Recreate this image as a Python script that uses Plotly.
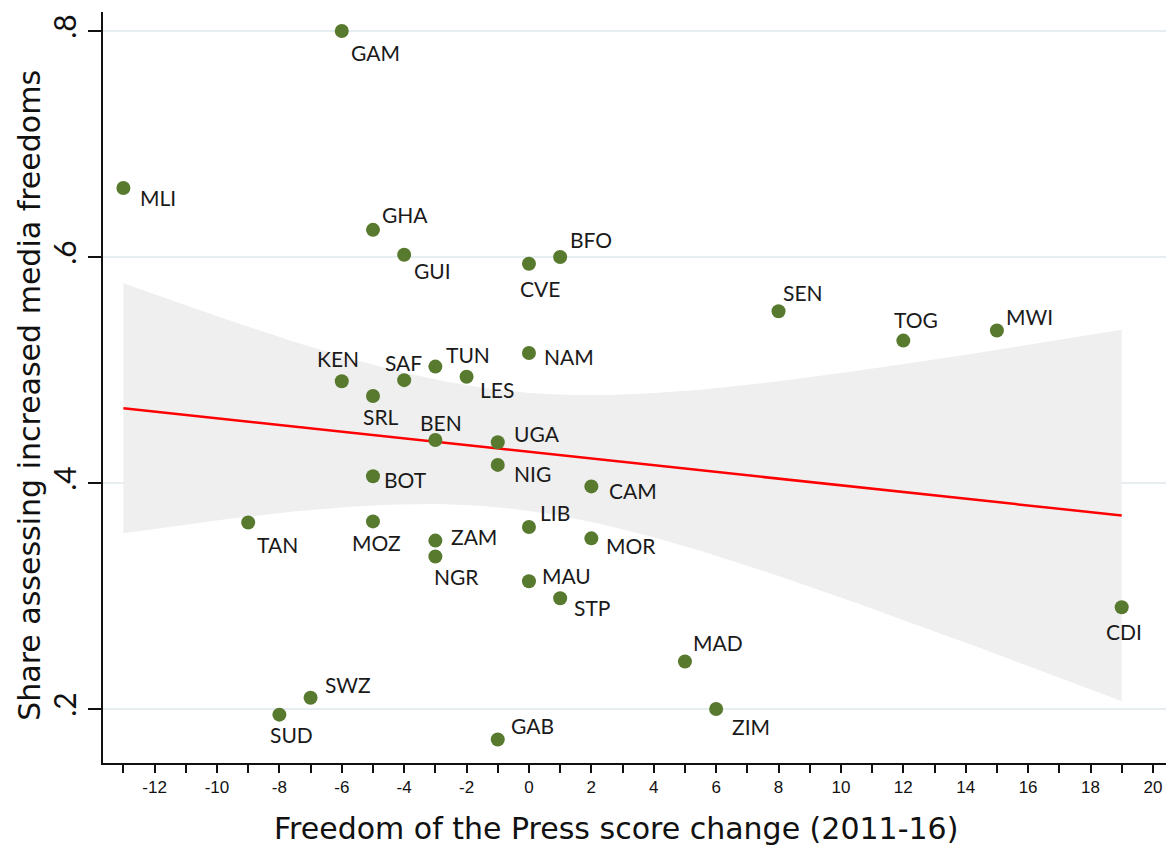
import numpy as np
import plotly.graph_objects as go

# Country codes, press-freedom score change and share assessing increased media freedoms
countries = ["GAM", "MLI", "GHA", "GUI", "CVE", "BFO", "SEN", "TOG", "MWI", "NAM",
             "TUN", "LES", "KEN", "SAF", "SRL", "BEN", "UGA", "NIG", "BOT", "CAM",
             "TAN", "MOZ", "LIB", "ZAM", "NGR", "MOR", "MAU", "STP", "CDI", "MAD",
             "ZIM", "SWZ", "SUD", "GAB"]
score_change = [-6, -13, -5, -4, 0, 1, 8, 12, 15, 0,
                -3, -2, -6, -4, -5, -3, -1, -1, -5, 2,
                -9, -5, 0, -3, -3, 2, 0, 1, 19, 5,
                6, -7, -8, -1]
share_increased = [0.800, 0.661, 0.624, 0.602, 0.594, 0.600, 0.552, 0.526, 0.535, 0.515,
                   0.503, 0.494, 0.490, 0.491, 0.477, 0.438, 0.436, 0.416, 0.406, 0.397,
                   0.365, 0.366, 0.361, 0.349, 0.335, 0.351, 0.313, 0.298, 0.290, 0.242,
                   0.200, 0.210, 0.195, 0.173]

x_tick_values = list(range(-12, 21, 2))
x_tick_text = [str(v) for v in x_tick_values]  # plain hyphen-minus
y_tick_values = [0.2, 0.4, 0.6, 0.8]
y_tick_text = [".2", ".4", ".6", ".8"]

x_title = "Freedom of the Press score change (2011-16)"
y_title = "Share assessing increased media freedoms"

# Label placement around each marker (pixels: right, down)
label_offsets = {
    "GAM": (7, 22), "MLI": (15, 9), "GHA": (7, -15), "GUI": (8, 16), "CVE": (-11, 25),
    "BFO": (8, -17), "SEN": (2, -19), "TOG": (-11, -21), "MWI": (7, -14), "NAM": (13, 3),
    "TUN": (9, -12), "LES": (11, 13), "KEN": (-27, -23), "SAF": (-21, -18), "SRL": (-12, 21),
    "BEN": (-17, -18), "UGA": (14, -9), "NIG": (14, 9), "BOT": (9, 3), "CAM": (16, 4),
    "TAN": (7, 22), "MOZ": (-23, 21), "LIB": (9, -15), "ZAM": (14, -4), "NGR": (-3, 20),
    "MOR": (13, 7), "MAU": (11, -6), "STP": (12, 9), "CDI": (-18, 24), "MAD": (6, -19),
    "ZIM": (14, 18), "SWZ": (12, -13), "SUD": (-11, 20), "GAB": (11, -14),
}

x = np.array(score_change, dtype=float)
y = np.array(share_increased, dtype=float)

# Linear fit with 95% confidence interval for the mean prediction
n = len(x)
slope, intercept = np.polyfit(x, y, 1)
resid = y - (intercept + slope * x)
s = np.sqrt(np.sum(resid ** 2) / (n - 2))
xbar = x.mean()
sxx = np.sum((x - xbar) ** 2)
t_crit = 2.0369  # t(0.975, 32)
xf = np.linspace(x.min(), x.max(), 200)
yf = intercept + slope * xf
half = t_crit * s * np.sqrt(1.0 / n + (xf - xbar) ** 2 / sxx)

label_font = "Lato, 'Open Sans', sans-serif"
title_font = "'DejaVu Sans', Verdana, sans-serif"

fig = go.Figure()

fig.add_trace(go.Scatter(
    x=np.concatenate([xf, xf[::-1]]),
    y=np.concatenate([yf + half, (yf - half)[::-1]]),
    fill="toself", fillcolor="#efefef", line=dict(width=0),
    hoverinfo="skip", showlegend=False,
))
fig.add_trace(go.Scatter(
    x=xf, y=yf, mode="lines", line=dict(color="#ff0000", width=2.5),
    hoverinfo="skip", showlegend=False,
))
fig.add_trace(go.Scatter(
    x=score_change, y=share_increased, mode="markers", text=countries,
    marker=dict(color="#587a2e", size=14), showlegend=False,
))

for c, xv, yv in zip(countries, score_change, share_increased):
    dx, dy = label_offsets[c]
    fig.add_annotation(
        x=xv, y=yv, text=c, showarrow=False,
        xanchor="left", yanchor="middle",
        xshift=dx, yshift=-dy,
        font=dict(family=label_font, size=21, color="#1a1a1a"),
    )

# Axis titles
fig.add_annotation(
    text=x_title, xref="paper", yref="paper", x=0.4826, y=0, yshift=-65,
    xanchor="center", yanchor="middle", showarrow=False,
    font=dict(family=title_font, size=30, color="#111111"),
)
fig.add_annotation(
    text=y_title, xref="paper", yref="paper", x=0, y=0.489, xshift=-73,
    xanchor="center", yanchor="middle", textangle=-90, showarrow=False,
    font=dict(family=title_font, size=30, color="#111111"),
)

fig.update_layout(
    width=1166, height=845,
    margin=dict(l=103, r=0, t=12, b=82),
    plot_bgcolor="white", paper_bgcolor="white",
    xaxis=dict(
        range=[-13.654, 20.42],
        tickmode="array", tickvals=x_tick_values, ticktext=x_tick_text,
        ticks="outside", ticklen=8, tickwidth=2, tickcolor="#111111",
        minor=dict(dtick=1, ticks="outside", ticklen=8, tickwidth=2, tickcolor="#111111"),
        showline=True, linecolor="#111111", linewidth=2,
        showgrid=False, zeroline=False,
        tickfont=dict(family="Arial, 'Liberation Sans', sans-serif", size=17, color="#111111"),
    ),
    yaxis=dict(
        range=[0.1522, 0.8168],
        tickmode="array", tickvals=y_tick_values, ticktext=y_tick_text,
        ticks="outside", ticklen=13, tickwidth=2, tickcolor="#111111",
        tickangle=-90,
        showline=True, linecolor="#111111", linewidth=2,
        showgrid=True, gridcolor="#e6eef1", gridwidth=2, zeroline=False,
        tickfont=dict(family=label_font, size=30, color="#111111"),
    ),
)

fig.write_html("out.html")
